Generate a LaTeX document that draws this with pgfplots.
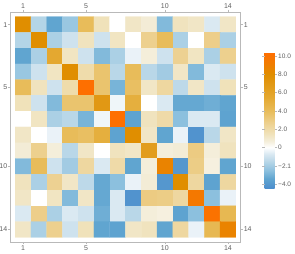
\documentclass[border=0pt]{standalone}
\usepackage{pgfplots}
\pgfplotsset{compat=1.18}
\usepackage{fontspec}
\setmainfont{Liberation Sans}
\usetikzlibrary{calc}
\definecolor{lab}{RGB}{95,95,95}
\definecolor{frm}{RGB}{185,185,185}
\pgfplotsset{
  colormap={mma}{rgb255(0cm)=(75,140,205); rgb255(1.1cm)=(96,165,208); rgb255(2cm)=(140,192,222); rgb255(3cm)=(185,215,232); rgb255(3.8cm)=(218,233,242); rgb255(4.5cm)=(255,255,255); rgb255(5.2cm)=(244,238,218); rgb255(6cm)=(240,226,186); rgb255(7.2cm)=(237,208,142); rgb255(8.5cm)=(232,188,90); rgb255(10cm)=(228,168,48); rgb255(11.5cm)=(225,152,20); rgb255(12.5cm)=(224,142,0); rgb255(13.5cm)=(238,126,0); rgb255(14.85cm)=(255,110,0)},
  mmbase/.style={
    scale only axis, width=230pt, height=230pt,
    xmin=0.2, xmax=14.8, ymin=0.2, ymax=14.8, y dir=reverse,
    xtick={1,5,10,14}, ytick={1,5,10,14},
    tick align=outside, major tick length=2.5pt,
    tick style={frm, line width=0.5pt},
    axis line style={frm, line width=0.6pt},
    ticklabel style={font=\fontsize{7}{8}\selectfont, text=lab, inner sep=0.6pt},
    /pgf/number format/assume math mode=true,
  }
}
\begin{document}
\begin{tikzpicture}
\begin{axis}[mmbase, name=main,
  xtick pos=left, ytick pos=left, xticklabel pos=left, yticklabel pos=left,
  colormap name=mma, point meta min=-4.5, point meta max=10.35,
  colorbar right,
  colorbar style={
    at={($(parent axis.south west)+(245.5pt,189.3pt)$)}, anchor=north west,
    width=10pt, height=136pt,
    ytick={-4,-2.1,0,2,4,6,8,10},
    yticklabels={−4.0,−2.1,0,2.0,4.0,6.0,8.0,10.0},
    axis line style={draw=none},
    tick align=outside, major tick length=2.5pt,
    tick style={frm, line width=0.5pt},
    yticklabel style={font=\fontsize{6.5}{7}\selectfont, text=lab, inner sep=1pt},
  },
]
\addplot[matrix plot*, mesh/cols=14, point meta=explicit, draw=none] table[meta=c] {
x y c
1 1 8.0
2 1 -1.6
3 1 -3.4
4 1 -2.2
5 1 4.0
6 1 1.5
7 1 0
8 1 1.2
9 1 0.8
10 1 -2.7
11 1 1.4
12 1 1.2
13 1 -0.7
14 1 1.2
1 2 -1.6
2 2 8.0
3 2 -1.8
4 2 -1.0
5 2 1.4
6 2 -1.0
7 2 1.3
8 2 0
9 2 2.7
10 2 4.0
11 2 -1.8
12 2 0
13 2 2.8
14 2 -1.8
1 3 -3.4
2 3 -1.8
3 3 5.5
4 3 1.3
5 3 -1.0
6 3 -2.7
7 3 -1.8
8 3 -0.4
9 3 0.7
10 3 -1.0
11 3 2.6
12 3 1.3
13 3 -1.8
14 3 2.7
1 4 -2.2
2 4 -1.0
3 4 1.3
4 4 8.0
5 4 1.9
6 4 3.5
7 4 -1.5
8 4 4.0
9 4 -1.5
10 4 -2.0
11 4 1.2
12 4 -2.7
13 4 -0.7
14 4 -1.0
1 5 4.0
2 5 1.4
3 5 -1.0
4 5 1.9
5 5 10.3
6 5 3.5
7 5 -2.9
8 5 3.8
9 5 1.2
10 5 2.2
11 5 -1.4
12 5 1.2
13 5 -1.0
14 5 1.5
1 6 1.5
2 6 -1.0
3 6 -2.7
4 6 3.5
5 6 3.5
6 6 7.0
7 6 -0.3
8 6 5.0
9 6 0
10 6 -0.7
11 6 -3.3
12 6 -3.3
13 6 -3.1
14 6 -3.4
1 7 0
2 7 1.3
3 7 -1.8
4 7 -1.5
5 7 -2.9
6 7 -0.3
7 7 10.3
8 7 -3.5
9 7 1.4
10 7 2.0
11 7 -2.5
12 7 -0.7
13 7 -0.7
14 7 -3.5
1 8 1.2
2 8 0
3 8 -0.4
4 8 4.0
5 8 3.8
6 8 5.0
7 8 -3.5
8 8 8.0
9 8 1.2
10 8 -3.4
11 8 -0.4
12 8 -4.2
13 8 -1.5
14 8 1.2
1 9 0.8
2 9 2.7
3 9 0.7
4 9 -1.5
5 9 1.2
6 9 0
7 9 1.4
8 9 1.2
9 9 6.5
10 9 0.7
11 9 0.8
12 9 3.0
13 9 0.7
14 9 1.4
1 10 -2.7
2 10 4.0
3 10 -1.0
4 10 -2.0
5 10 2.2
6 10 -0.7
7 10 2.0
8 10 -3.4
9 10 0.7
10 10 8.7
11 10 -4.0
12 10 2.9
13 10 0.6
14 10 -3.4
1 11 1.4
2 11 -1.8
3 11 2.6
4 11 1.2
5 11 -1.4
6 11 -3.3
7 11 -2.5
8 11 -0.4
9 11 0.8
10 11 -4.0
11 11 8.0
12 11 2.2
13 11 -3.5
14 11 2.2
1 12 1.2
2 12 0
3 12 1.3
4 12 -2.7
5 12 1.2
6 12 -3.3
7 12 -0.7
8 12 -4.2
9 12 3.0
10 12 2.9
11 12 2.2
12 12 9.5
13 12 -2.5
14 12 -0.4
1 13 -0.7
2 13 2.8
3 13 -1.8
4 13 -0.7
5 13 -1.0
6 13 -3.1
7 13 -0.7
8 13 -1.5
9 13 0.7
10 13 0.6
11 13 -3.5
12 13 -2.5
13 13 10.0
14 13 4.3
1 14 1.2
2 14 -1.8
3 14 2.7
4 14 -1.0
5 14 1.5
6 14 -3.4
7 14 -3.5
8 14 1.2
9 14 1.4
10 14 -3.4
11 14 2.2
12 14 -0.4
13 14 4.3
14 14 8.7
};
\end{axis}
\begin{axis}[mmbase,
  xtick pos=right, ytick pos=right, xticklabel pos=right, yticklabel pos=right,
]
\addplot[draw=none] coordinates {(1,1)};
\end{axis}
\pgfresetboundingbox
\path (-10.5pt,-12pt) rectangle (284.5pt,242pt);
\end{tikzpicture}
\end{document}
